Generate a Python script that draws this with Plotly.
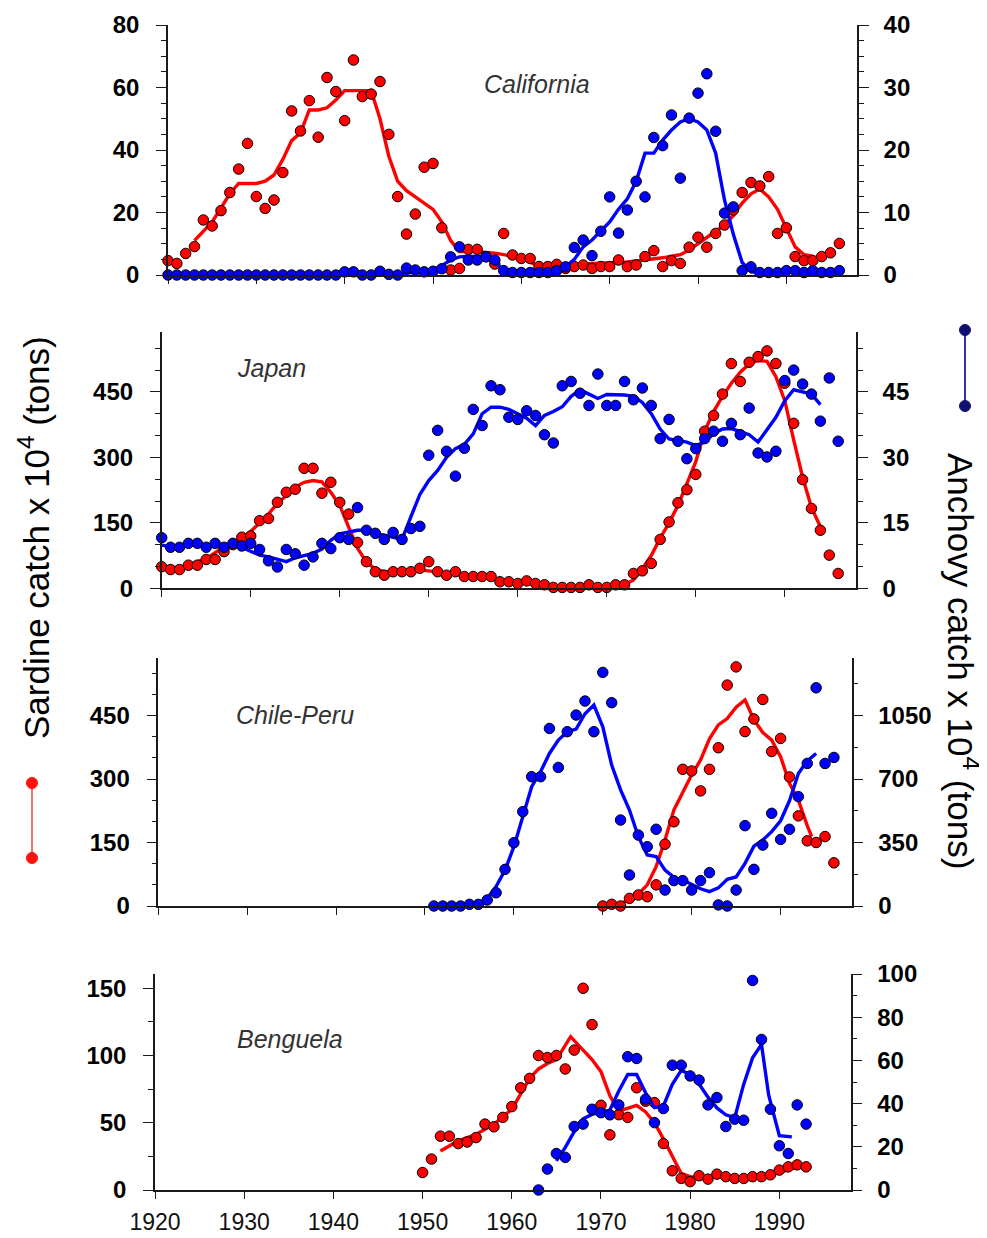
import plotly.graph_objects as go

# ---------------- DATA ----------------
# California
cal_sard_years = list(range(1920, 1997))
cal_sard = [4.6, 3.7, 6.9, 9.1, 17.6, 15.7, 20.6, 26.4, 33.9, 42.1,
            25.1, 21.3, 24.0, 32.8, 52.5, 46.1, 55.8, 44.1, 63.2, 58.7,
            49.4, 68.8, 57.1, 57.9, 61.9, 45.0, 25.1, 13.1, 19.5, 34.5,
            35.7, 15.1, 1.6, 2.1, 8.2, 8.2, 5.9, 3.5, 13.3, 6.4,
            5.3, 5.3, 2.7, 2.7, 3.4, 2.1, 2.7, 3.2, 2.1, 2.7,
            2.7, 4.8, 2.7, 3.2, 5.9, 7.8, 2.7, 4.6, 3.7, 8.9,
            12.1, 8.9, 13.3, 16.0, 20.8, 26.4, 29.6, 28.5, 31.5, 13.3,
            15.1, 5.9, 4.6, 4.6, 5.9, 7.1, 10.1]
cal_anch_years = list(range(1920, 1997))
cal_anch = [0, 0, 0, 0, 0, 0, 0, 0, 0, 0,
            0, 0, 0, 0, 0, 0, 0, 0, 0, 0,
            0.5, 0.5, 0, 0, 0.6, 0.1, 0, 1.1, 0.8, 0.5,
            0.6, 1.0, 2.9, 4.5, 2.4, 2.4, 2.9, 2.4, 0.7, 0.4,
            0.4, 0.4, 0.4, 0.4, 0.7, 1.3, 4.4, 5.6, 3.1, 7.0,
            12.5, 6.7, 10.4, 15.0, 12.5, 22.0, 20.7, 25.6, 15.5, 25.1,
            29.1, 32.2, 23.0, 9.9, 10.9, 0.7, 1.3, 0.4, 0.4, 0.4,
            0.7, 0.7, 0.4, 0.7, 0.4, 0.4, 0.7]
cal_sard_line_years = [1923, 1924, 1925, 1926, 1927, 1928, 1929, 1930, 1931, 1932,
                       1933, 1934, 1935, 1936, 1937, 1938, 1939, 1940, 1941, 1942,
                       1943, 1944, 1945, 1946, 1947, 1948, 1949, 1950, 1951, 1952,
                       1953, 1954, 1955, 1956, 1957, 1958, 1959, 1960, 1961, 1962,
                       1963, 1964, 1965, 1966, 1967, 1968, 1969, 1970, 1971, 1972,
                       1973, 1974, 1975, 1976, 1977, 1978, 1979, 1980, 1981, 1982,
                       1983, 1984, 1985, 1986, 1987, 1988, 1989, 1990, 1991, 1992, 1993]
cal_sard_line = [11, 14, 17, 21.5, 26, 29.3, 29.3, 29.3, 30, 32,
                 37, 43, 45.5, 52.8, 52.8, 53.5, 56, 59, 59, 59,
                 59, 50, 38, 30, 27, 25, 23, 21, 17, 11,
                 7.5, 7.5, 7.5, 7.2, 7, 6.5, 6, 5.5, 4, 3,
                 3, 3.2, 3.5, 3.5, 3.5, 3.6, 3.7, 3.8, 4, 4.2,
                 4.5, 4.8, 5, 5.5, 6, 6.5, 8, 10, 12, 14,
                 16, 19, 23, 26, 27.5, 25, 21, 15, 9, 6.5, 6]
cal_anch_line_years = [1946, 1948, 1950, 1951, 1952, 1953, 1954, 1955, 1956, 1957,
                       1958, 1959, 1960, 1961, 1962, 1963, 1964, 1965, 1966, 1967,
                       1968, 1969, 1970, 1971, 1972, 1973, 1974, 1975, 1976, 1977,
                       1978, 1979, 1980, 1981, 1982, 1983, 1984, 1985, 1986, 1987,
                       1990, 1995]
cal_anch_line = [0, 0.5, 0.8, 1.5, 2.4, 2.9, 3.0, 3.0, 2.9, 2.0,
                 0.8, 0.4, 0.3, 0.3, 0.3, 0.4, 0.7, 1.3, 2.5, 4.5,
                 5.6, 7.0, 8.5, 10.5, 12.2, 15.0, 19.5, 19.5, 21.6, 23.2,
                 24.5, 25.0, 24.5, 23.2, 19.5, 12.0, 6.5, 2.0, 0.5, 0.4,
                 0.5, 0.5]

# Japan
jap_sard_years = list(range(1920, 1997))
jap_sard = [49.5, 43, 43, 53, 53, 66, 66, 84, 100, 117,
            120, 155, 160, 197, 220, 227, 275, 275, 218, 243,
            197, 170, 105, 61, 38, 30, 38, 38, 38, 46,
            61, 38, 30, 38, 27, 27, 27, 27, 15, 15,
            11, 17, 11, 8, 2, 2, 2, 2, 8, 2,
            2, 8, 8, 34, 40, 57, 112, 152, 196, 226,
            261, 360, 396, 445, 515, 474, 518, 531, 544, 515,
            470, 378, 249, 183, 133, 76, 34]
jap_anch_years = list(range(1920, 1997))
jap_anch = [11.6, 9.4, 9.4, 10.3, 10.3, 9.4, 10.3, 9.4, 10.3, 9.7,
            10.3, 8.9, 6.3, 4.9, 8.9, 7.9, 5.3, 7.2, 10.3, 9.1,
            11.6, 11.2, 18.5, 13.3, 12.6, 11.2, 12.8, 11.2, 13.7, 14.2,
            30.5, 36.2, 31.4, 25.7, 32.1, 41.0, 37.3, 46.4, 45.5, 39.2,
            38.7, 40.7, 39.6, 35.2, 33.3, 46.4, 47.4, 44.7, 41.9, 49.1,
            41.9, 41.9, 47.4, 43.2, 45.9, 41.9, 34.3, 38.7, 33.7, 29.7,
            32.0, 34.3, 36.0, 33.7, 37.8, 35.2, 41.3, 31.0, 30.1, 31.4,
            47.6, 50.0, 46.8, 44.5, 38.3, 48.2, 33.7]
jap_sard_line_years = [1920, 1922, 1925, 1927, 1929, 1930, 1931, 1932, 1933, 1934,
                       1935, 1936, 1937, 1938, 1939, 1940, 1941, 1942, 1943, 1944,
                       1945, 1946, 1947, 1948, 1949, 1950, 1951, 1952, 1953, 1954,
                       1955, 1956, 1957, 1958, 1959, 1960, 1961, 1962, 1963, 1964,
                       1965, 1966, 1967, 1968, 1969, 1970, 1971, 1972, 1973, 1974,
                       1975, 1976, 1977, 1978, 1979, 1980, 1981, 1982, 1983, 1984,
                       1985, 1986, 1987, 1988, 1989, 1990, 1991, 1992, 1993, 1994]
jap_sard_line = [49, 47, 68, 95, 114, 130, 150, 170, 195, 212,
                 232, 243, 247, 244, 220, 190, 140, 92, 60, 44,
                 38, 38, 40, 41, 42, 40, 37, 34, 32, 30,
                 28, 27, 24, 21, 17, 14, 11, 10, 8, 5,
                 3, 2, 2, 1, 0.5, 0.5, 3, 8, 19, 45,
                 75, 115, 150, 190, 240, 290, 360, 405, 440, 470,
                 495, 514, 522, 520, 485, 430, 340, 255, 185, 141]
jap_anch_line_years = list(range(1920, 1995))
jap_anch_line = [9.9, 9.5, 9.6, 9.9, 9.9, 9.6, 9.8, 9.9, 10.3, 9.4,
                 8.4, 7.6, 7.2, 6.6, 6.1, 7.0, 7.6, 8.0, 9.0, 11.0,
                 12.5, 13.0, 13.3, 13.3, 12.6, 12.2, 11.8, 11.2, 16.4, 21.5,
                 24.7, 27.0, 30.0, 32.0, 33.0, 35.4, 40.0, 41.5, 41.5, 41.0,
                 40.0, 39.0, 37.3, 39.6, 40.5, 41.6, 44.0, 45.5, 44.5, 43.5,
                 44.4, 44.4, 44.3, 44.0, 42.6, 40.0, 36.5, 34.2, 33.8, 33.5,
                 32.7, 33.5, 35.4, 36.5, 36.6, 35.8, 35.2, 33.5, 36.5, 39.2,
                 43.0, 45.5, 45.0, 44.5, 42.1]

# Chile-Peru
chp_sard_years = list(range(1970, 1997))
chp_sard = [0, 4, 0, 18, 26, 22, 50, 146, 199, 323,
            319, 272, 323, 374, 522, 565, 412, 442, 488, 365,
            396, 305, 213, 154, 150, 164, 102]
chp_anch_years = list(range(1951, 1997))
chp_anch = [0, 0, 0, 0, 9, 9, 33, 73, 202, 349,
            520, 713, 713, 979, 764, 961, 1053, 1130, 961, 1288,
            1121, 474, 171, 391, 327, 423, 88, 140, 140, 88,
            140, 184, 6, 0, 88, 443, 202, 336, 511, 367,
            423, 603, 786, 1203, 786, 819]
chp_sard_line_years = [1972, 1973, 1974, 1975, 1976, 1977, 1978, 1979, 1980, 1981,
                       1982, 1983, 1984, 1985, 1986, 1987, 1988, 1989, 1990, 1991,
                       1992, 1993, 1993.5]
chp_sard_line = [6, 14, 28, 50, 93, 156, 227, 270, 310, 345,
                 395, 428, 443, 470, 487, 440, 410, 392, 353, 290,
                 250, 190, 164]
chp_anch_line_years = list(range(1956, 1995))
chp_anch_line = [15, 42, 107, 198, 327, 492, 658, 740, 841, 915,
                 961, 975, 1060, 1108, 988, 777, 640, 529, 382, 281,
                 272, 198, 158, 143, 118, 95, 79, 100, 147, 160,
                 235, 330, 364, 410, 470, 580, 730, 800, 841]

# Benguela
ben_sard_years = list(range(1950, 1994))
ben_sard = [13, 23, 40, 40, 34.5, 35.7, 39, 49, 47, 54,
            62, 76, 83, 100, 98.5, 100, 90, 104, 150, 123,
            63, 41, 56, 54, 76, 66, 65, 34.5, 14.3, 8.6,
            6.2, 10.6, 8.1, 11.8, 9.9, 8.6, 8.6, 9.9, 9.9, 11.3,
            14.8, 17.2, 18.7, 17.2]
ben_anch_years = list(range(1963, 1994))
ben_anch = [0, 9.7, 16.9, 15.1, 29.4, 30.5, 37.4, 35.8, 34.8, 39.4,
            61.7, 60.9, 42.0, 31.2, 37.7, 57.8, 57.8, 52.8, 50.9, 39.4,
            42.8, 29.4, 32.8, 32.3, 97.0, 69.7, 37.4, 20.5, 16.9, 39.4, 30.5]
ben_sard_line_years = [1952, 1954, 1956, 1958, 1960, 1961, 1962, 1963, 1964, 1965,
                       1966, 1966.6, 1968, 1969, 1970, 1971, 1972, 1973, 1974, 1975,
                       1976, 1977, 1978, 1979, 1980, 1981, 1983, 1985, 1987, 1989,
                       1991, 1992]
ben_sard_line = [29, 36.5, 41.4, 48.8, 60, 72, 83, 90, 94, 97,
                 108, 114, 104, 97, 88, 70, 58.6, 61, 63, 58,
                 50, 38, 25, 12.3, 9.9, 9.5, 10, 9.5, 9.5, 11,
                 15, 17]
ben_anch_line_years = [1965, 1966, 1967, 1968, 1969, 1970, 1971, 1972, 1973, 1974,
                       1975, 1976, 1977, 1978, 1979, 1980, 1981, 1982, 1983, 1984,
                       1985, 1986, 1987, 1988, 1988.8, 1990, 1991.4]
ben_anch_line = [13.5, 19.7, 27, 33, 35, 35.8, 37, 45.8, 53.5, 53.5,
                 45, 38.1, 38.9, 48.9, 55.4, 53.5, 49, 43, 38, 34.8,
                 33.5, 48.9, 61.2, 67.4, 44, 25.1, 24.6]

panel_names = ["California", "Japan", "Chile-Peru", "Benguela"]
year_ticks = [1920, 1930, 1940, 1950, 1960, 1970, 1980, 1990]

# ---------------- LAYOUT GEOMETRY (screen pixels) ----------------
W, H = 987, 1238
OFF = 8  # page body margin of the html page
RED = "#ff0000"
BLUE = "#0000ff"


def px(x):
    return (x - OFF) / W


def py(y):
    return 1 - (y - OFF) / H


panels = [
    dict(xl=168, xr=857, yb=275, yt=25,
         lrange=[0, 80], ltick=20, lminor=5,
         rrange=[0, 40], rtick=10, rminor=2.5,
         sy=cal_sard_years, s=cal_sard, ay=cal_anch_years, a=cal_anch,
         sly=cal_sard_line_years, sl=cal_sard_line,
         aly=cal_anch_line_years, al=cal_anch_line,
         label_xy=(537, 84)),
    dict(xl=161.7, xr=856, yb=588.3, yt=331.7,
         lrange=[0, 588], ltick=150, lminor=50,
         rrange=[0, 58.8], rtick=15, rminor=5,
         sy=jap_sard_years, s=jap_sard, ay=jap_anch_years, a=jap_anch,
         sly=jap_sard_line_years, sl=jap_sard_line,
         aly=jap_anch_line_years, al=jap_anch_line,
         label_xy=(271, 368)),
    dict(xl=158.3, xr=851.7, yb=906, yt=658,
         lrange=[0, 586], ltick=150, lminor=50,
         rrange=[0, 1367.3], rtick=350, rminor=175,
         sy=chp_sard_years, s=chp_sard, ay=chp_anch_years, a=chp_anch,
         sly=chp_sard_line_years, sl=chp_sard_line,
         aly=chp_anch_line_years, al=chp_anch_line,
         label_xy=(295, 715)),
    dict(xl=155, xr=850.7, yb=1190, yt=974,
         lrange=[0, 160.6], ltick=50, lminor=25,
         rrange=[0, 100], rtick=20, rminor=10,
         sy=ben_sard_years, s=ben_sard, ay=ben_anch_years, a=ben_anch,
         sly=ben_sard_line_years, sl=ben_sard_line,
         aly=ben_anch_line_years, al=ben_anch_line,
         label_xy=(290, 1039)),
]

fig = go.Figure()
layout = dict(
    width=W, height=H,
    margin=dict(l=0, r=0, t=0, b=0, autoexpand=False),
    paper_bgcolor="white", plot_bgcolor="rgba(0,0,0,0)",
    showlegend=False,
    annotations=[], shapes=[],
)

AXCOL = "#1a1a1a"
tickfont_y = dict(family="Liberation Sans", size=24, color="black", weight="bold")
tickfont_x = dict(family="Liberation Sans", size=23, color="#111")

marker_style = lambda c: dict(color=c, size=10.5, line=dict(color="black", width=1))

for i, p in enumerate(panels, start=1):
    xa = "x" if i == 1 else f"x{i}"
    yl_n = 2 * i - 1
    yr_n = 2 * i
    yl = "y" if yl_n == 1 else f"y{yl_n}"
    yr = f"y{yr_n}"

    xdom = [px(p["xl"]), px(p["xr"])]
    ydom = [py(p["yb"]), py(p["yt"])]

    layout["xaxis" if i == 1 else f"xaxis{i}"] = dict(
        domain=xdom, range=[1920, 1998], anchor=yl, automargin=False,
        showline=True, linecolor=AXCOL, linewidth=1.5,
        ticks="outside", ticklen=7, tickwidth=1.3, tickcolor=AXCOL,
        tickvals=year_ticks, showticklabels=(i == 4), ticklabelstandoff=4,
        tickfont=tickfont_x, showgrid=False, zeroline=False,
    )
    layout["yaxis" if yl_n == 1 else f"yaxis{yl_n}"] = dict(
        domain=ydom, range=p["lrange"], anchor=xa, side="left", automargin=False,
        showline=True, linecolor=AXCOL, linewidth=1.5,
        ticks="outside", ticklen=10, tickwidth=1.3, tickcolor=AXCOL,
        tick0=0, dtick=p["ltick"], tickfont=tickfont_y, ticklabelstandoff=12,
        minor=dict(ticks="outside", ticklen=5, tickwidth=1.2, tickcolor=AXCOL,
                   tick0=0, dtick=p["lminor"], showgrid=False),
        showgrid=False, zeroline=False,
    )
    layout[f"yaxis{yr_n}"] = dict(
        range=p["rrange"], anchor=xa, overlaying=yl, side="right", automargin=False,
        showline=True, linecolor=AXCOL, linewidth=1.5,
        ticks="outside", ticklen=10, tickwidth=1.3, tickcolor=AXCOL,
        tick0=0, dtick=p["rtick"], tickfont=tickfont_y, ticklabelstandoff=10,
        minor=dict(ticks="outside", ticklen=5, tickwidth=1.2, tickcolor=AXCOL,
                   tick0=0, dtick=p["rminor"], showgrid=False),
        showgrid=False, zeroline=False,
    )

    fig.add_trace(go.Scatter(x=p["sly"], y=p["sl"], mode="lines",
                             line=dict(color=RED, width=3.4),
                             xaxis=xa, yaxis=yl, cliponaxis=False, hoverinfo="skip"))
    fig.add_trace(go.Scatter(x=p["sy"], y=p["s"], mode="markers",
                             marker=marker_style(RED),
                             xaxis=xa, yaxis=yl, cliponaxis=False))
    fig.add_trace(go.Scatter(x=p["aly"], y=p["al"], mode="lines",
                             line=dict(color=BLUE, width=3.4),
                             xaxis=xa, yaxis=yr, cliponaxis=False, hoverinfo="skip"))
    fig.add_trace(go.Scatter(x=p["ay"], y=p["a"], mode="markers",
                             marker=marker_style(BLUE),
                             xaxis=xa, yaxis=yr, cliponaxis=False))

    lx, ly = p["label_xy"]
    layout["annotations"].append(dict(
        x=px(lx), y=py(ly), xref="paper", yref="paper",
        text=panel_names[i - 1], showarrow=False, xanchor="center", yanchor="middle",
        font=dict(family="Liberation Sans", size=25, color="#333", style="italic"),
    ))

layout["annotations"].append(dict(
    x=px(34), y=py(538), xref="paper", yref="paper",
    text="Sardine catch x 10<sup>4</sup> (tons)", textangle=-90, showarrow=False,
    xanchor="center", yanchor="middle",
    font=dict(family="Liberation Sans", size=35, color="black"),
))
layout["annotations"].append(dict(
    x=px(963), y=py(661), xref="paper", yref="paper",
    text="Anchovy catch x 10<sup>4</sup> (tons)", textangle=90, showarrow=False,
    xanchor="center", yanchor="middle",
    font=dict(family="Liberation Sans", size=35, color="black"),
))


def dumbbell(cx, y1, y2, line_col, dot_col, r=5.5):
    shapes = [dict(type="line", xref="paper", yref="paper",
                   x0=px(cx), x1=px(cx), y0=py(y1), y1=py(y2),
                   line=dict(color=line_col, width=2))]
    for yy in (y1, y2):
        shapes.append(dict(type="circle", xref="paper", yref="paper",
                           x0=px(cx - r), x1=px(cx + r),
                           y0=py(yy + r), y1=py(yy - r),
                           fillcolor=dot_col, line=dict(color=dot_col, width=1)))
    return shapes


layout["shapes"] += dumbbell(32, 783, 858, "#ff6a6a", "#ff1010")
layout["shapes"] += dumbbell(965, 330, 406, "#303090", "#101070")

fig.update_layout(**layout)
fig.write_html("out.html")
